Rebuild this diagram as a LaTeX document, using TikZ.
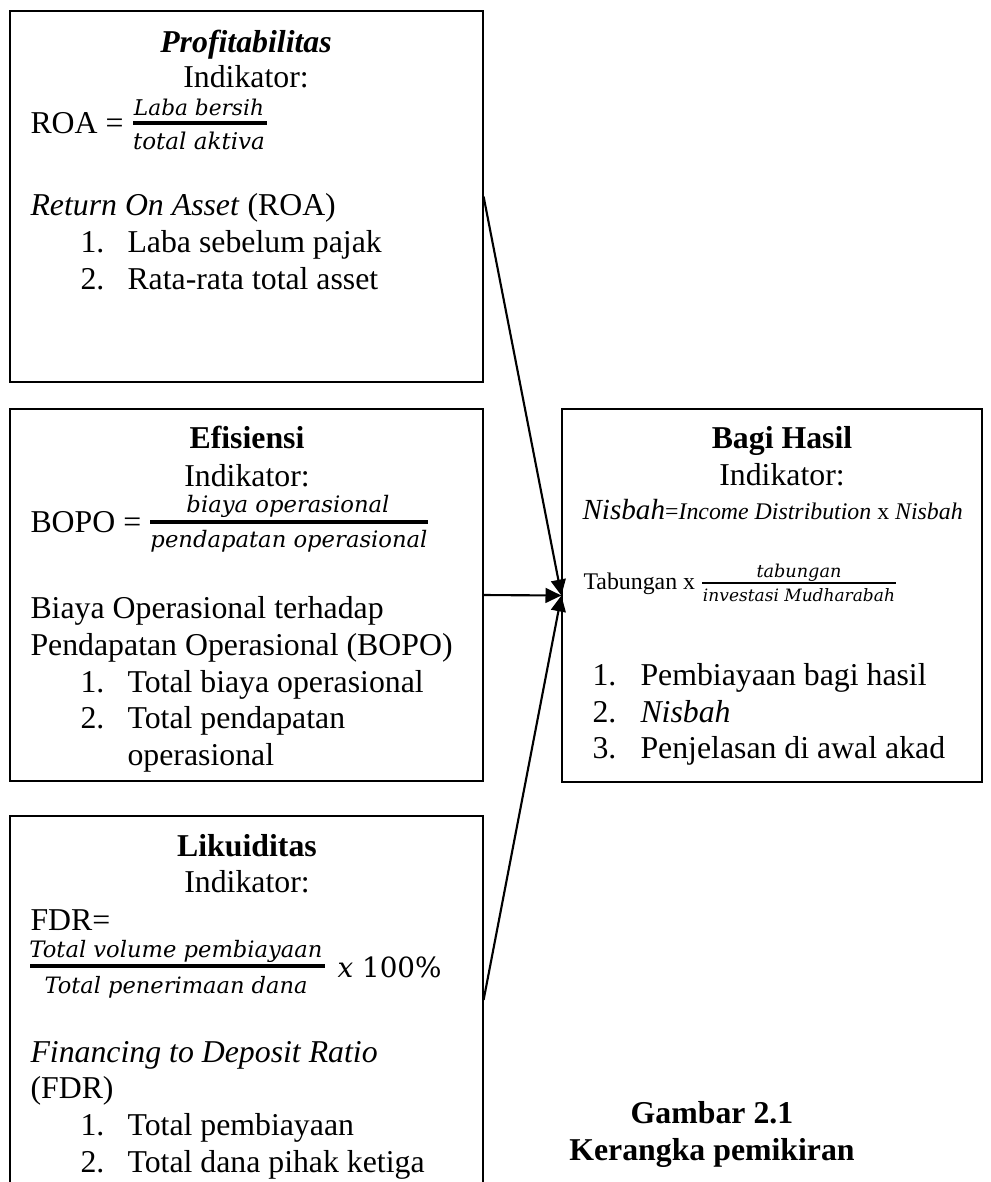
\documentclass[tikz,border=0pt]{standalone}
\usepackage{fontspec}
\usepackage{graphicx}
\setmainfont{Liberation Serif}
\newfontfamily\mff{DejaVu Serif}
\usetikzlibrary{arrows.meta,fit}
\newlength\pxu \setlength\pxu{0.3774pt}
\newcommand\mfr[2]{\resizebox{#1\pxu}{!}{\mff\itshape #2}}
\begin{document}
\begin{tikzpicture}[x=0.3774pt,y=-0.3774pt,
  box/.style={draw=black,line width=0.45pt,inner sep=0pt},
  txt/.style={inner sep=0pt,anchor=base west,font=\fontsize{12}{14}\selectfont},
  ctr/.style={inner sep=0pt,anchor=base,font=\fontsize{12}{14}\selectfont},
  frc/.style={inner sep=0pt,anchor=base},
  bar/.style={line width=1.2pt},
  sbar/.style={line width=0.9pt},
  arr/.style={line width=0.8pt,-{Triangle[length=6pt,width=5.6pt]}}]
\useasboundingbox (0,0) rectangle (990,1182);
\clip (0,0) rectangle (990,1182);

% boxes
\node[box,fit={(10,11)(483,382)}] (prof) {};
\node[box,fit={(10,409)(483,781)}] (efi) {};
\node[box,fit={(10,816)(483,1184)}] (lik) {};
\node[box,fit={(562,409)(982,782)}] (bagi) {};

% Profitabilitas
\node[ctr] (p1) at (246,52) {\bfseries\itshape Profitabilitas};
\node[ctr] (p2) at (246,87) {Indikator:};
\node[txt] (p3) at (30,133) {ROA =};
\node[frc] (p3n) at (199,115) {\mfr{130}{Laba bersih}};
\draw[bar] (133,123) -- (267,123);
\node[frc] (p3d) at (199,149) {\mfr{132}{total aktiva}};
\node[txt] (p4) at (30,215) {\textit{Return On Asset} (ROA)};
\node[txt] (p5a) at (80,252) {1.};
\node[txt] (p5b) at (127,252) {Laba sebelum pajak};
\node[txt] (p6a) at (80,289) {2.};
\node[txt] (p6b) at (127,289) {Rata-rata total asset};

% Efisiensi
\node[ctr] (e1) at (247,448) {\bfseries Efisiensi};
\node[ctr] (e2) at (247,486) {Indikator:};
\node[txt] (e3) at (30,532) {BOPO =};
\node[frc] (e3n) at (288,512) {\mfr{203}{biaya operasional}};
\draw[bar] (150,522) -- (428,522);
\node[frc] (e3d) at (289,547) {\mfr{277}{pendapatan operasional}};
\node[txt] (e4) at (30,618) {Biaya Operasional terhadap};
\node[txt] (e5) at (30,655) {Pendapatan Operasional (BOPO)};
\node[txt] (e6a) at (80,692) {1.};
\node[txt] (e6b) at (127,692) {Total biaya operasional};
\node[txt] (e7a) at (80,728) {2.};
\node[txt] (e7b) at (127,728) {Total pendapatan};
\node[txt] (e8) at (127,765) {operasional};

% Likuiditas
\node[ctr] (l1) at (247,856) {\bfseries Likuiditas};
\node[ctr] (l2) at (247,892) {Indikator:};
\node[txt] (l3) at (30,930) {FDR=};
\node[frc] (l4n) at (176,957) {\mfr{293}{Total volume pembiayaan}};
\draw[bar] (30,966) -- (325,966);
\node[frc] (l4d) at (176,993) {\mfr{263}{Total penerimaan dana}};
\node[txt] (l4x) at (337,977) {\fontsize{10.5}{12}\mff\itshape x \upshape 100\%};
\node[txt] (l5) at (30,1062) {\itshape Financing to Deposit Ratio};
\node[txt] (l6) at (30,1098) {(FDR)};
\node[txt] (l7a) at (80,1135) {1.};
\node[txt] (l7b) at (127,1135) {Total pembiayaan};
\node[txt] (l8a) at (80,1172) {2.};
\node[txt] (l8b) at (127,1172) {Total dana pihak ketiga};

% Bagi Hasil
\node[ctr] (b1) at (782,448) {\bfseries Bagi Hasil};
\node[ctr] (b2) at (782,485) {Indikator:};
\node[txt] (b3) at (582,519) {{\fontsize{11}{13}\selectfont\itshape Nisbah}{\fontsize{9}{11}\selectfont =\textit{Income Distribution} x \textit{Nisbah}}};
\node[txt] (b4) at (583,589) {\fontsize{9}{11}\selectfont Tabungan x};
\node[frc] (b4n) at (799,577) {\mfr{85}{tabungan}};
\draw[sbar] (702,583) -- (896,583);
\node[frc] (b4d) at (799,601) {\mfr{192}{investasi Mudharabah}};
\node[txt] (b5a) at (592,685) {1.};
\node[txt] (b5b) at (640,685) {Pembiayaan bagi hasil};
\node[txt] (b6a) at (592,722) {2.};
\node[txt] (b6b) at (640,722) {\itshape Nisbah};
\node[txt] (b7a) at (592,758) {3.};
\node[txt] (b7b) at (640,758) {Penjelasan di awal akad};

% caption
\node[ctr] (g1) at (712,1123) {\bfseries Gambar 2.1};
\node[ctr] (g2) at (712,1160) {\bfseries Kerangka pemikiran};

% arrows
\draw[arr] (prof.east) -- (bagi.west);
\draw[arr] (efi.east) -- (bagi.west);
\draw[arr] (lik.east) -- (bagi.west);
\end{tikzpicture}
\end{document}
